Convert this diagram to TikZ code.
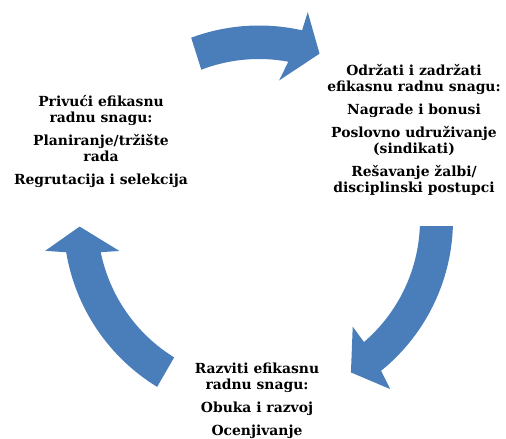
\documentclass[tikz,border=0pt]{standalone}
\usepackage{fontspec}
\setmainfont{DejaVu Serif}
\definecolor{arrowblue}{RGB}{74,126,187}
\begin{document}
\begin{tikzpicture}[x=1pt,y=1pt,
  cyclearrow/.style={fill=arrowblue},
  blocktext/.style={align=center,inner sep=0pt,font=\fontsize{13.9}{16}\selectfont\bfseries}]
\useasboundingbox (0,0) rectangle (506,439);
\begin{scope}[shift={(259,219)}]
  % top arrow
  \fill[cyclearrow] (110.4:194.5) arc[start angle=110.4,end angle=77.2,radius=194.5]
    -- (76.8:213.5) -- (70:177) -- (81.8:141) -- (79.5:161)
    arc[start angle=79.5,end angle=111,radius=161] -- cycle;
  % right arrow
  \fill[cyclearrow] (-1.8:194) arc[start angle=-1.8,end angle=-51,radius=194]
    -- (-52.2:214) -- (-58.9:178) -- (-48.7:142) -- (-49.3:161)
    arc[start angle=-49.3,end angle=-2.2,radius=161] -- cycle;
  % left arrow
  \fill[cyclearrow] (238.6:195.5) arc[start angle=238.6,end angle=189.5,radius=195.5]
    -- (188.2:216) -- (182.1:179.5) -- (192.5:143) -- (191.5:161.5)
    arc[start angle=191.5,end angle=238.3,radius=161.5] -- cycle;
\end{scope}
\node[blocktext] (attract) at (101,298) {Privući efikasnu\\radnu snagu:\\[7pt]Planiranje/tržište\\rada\\[7pt]Regrutacija i selekcija};
\node[blocktext] (retain) at (414,309.5) {Održati i zadržati\\efikasnu radnu snagu:\\[7pt]Nagrade i bonusi\\[7pt]Poslovno udruživanje\\(sindikati)\\[7pt]Rešavanje žalbi/\\disciplinski postupci};
\node[blocktext] (develop) at (257,38) {Razviti efikasnu\\radnu snagu:\\[7pt]Obuka i razvoj\\[7pt]Ocenjivanje};
\end{tikzpicture}
\end{document}
